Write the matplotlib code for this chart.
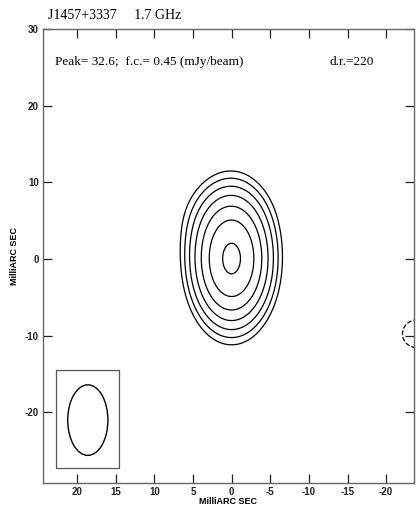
# VLBI total-intensity contour map, J1457+3337 at 1.7 GHz
import numpy as np
import matplotlib
matplotlib.use('Agg')
import matplotlib.pyplot as plt
from matplotlib.patches import Ellipse, Rectangle

plt.rcParams['axes.unicode_minus'] = False

# Map parameters
source_name = 'J1457+3337'
frequency = '1.7 GHz'
peak = 32.6            # mJy/beam
first_contour = 0.45   # mJy/beam
dyn_range = 220
contour_factors = [1, 2, 4, 8, 16, 32, 64]
neg_factors = [-1]

# Core component (centre x, centre y, sigma x, sigma y) in mas
core = (0.0, 0.0, 2.24, 3.82)
# Faint extension to the north (x, y, sigma x, sigma y, amplitude)
ext = (0.8, 5.0, 3.0, 3.0, 1.0)
# Small negative feature near the right edge (x, y, sigma, amplitude)
neg_blob = (-23.9, -9.75, 1.9, -0.7)

# Restoring beam (centre x, centre y, width, height) and its box
beam = (18.6, -21.0, 5.2, 9.2)
beam_box = (14.6, -27.3, 8.1, 12.8)

x_ticks = [20, 15, 10, 5, 0, -5, -10, -15, -20]
y_ticks = [30, 20, 10, 0, -10, -20]

# Model brightness on a grid
xs = np.linspace(-28, 28, 561)
ys = np.linspace(-32, 32, 641)
X, Y = np.meshgrid(xs, ys)
cx, cy, sx, sy = core
Z = peak * np.exp(-((X - cx) ** 2 / (2 * sx ** 2) + (Y - cy) ** 2 / (2 * sy ** 2)))
ex_, ey_, esx, esy, ea = ext
Z += ea * np.exp(-((X - ex_) ** 2 / (2 * esx ** 2) + (Y - ey_) ** 2 / (2 * esy ** 2)))
nx, ny, ns, na = neg_blob
Z += na * np.exp(-((X - nx) ** 2 + (Y - ny) ** 2) / (2 * ns ** 2))

fig = plt.figure(figsize=(4.17, 5.11), dpi=100)
ax = fig.add_axes([0.1031, 0.0548, 0.8897, 0.8885])

levels = [first_contour * f for f in contour_factors]
ax.contour(X, Y, Z, levels=levels, colors='black', linewidths=0.9)
neg_levels = [first_contour * f for f in neg_factors]
ax.contour(X, Y, Z, levels=neg_levels, colors='black', linewidths=0.9,
           linestyles='dashed')

# Beam inset
bx, by, bw, bh = beam_box
ax.add_patch(Rectangle((bx, by), bw, bh, fill=False, edgecolor='#555555',
                       linewidth=0.9, zorder=3))
ex, ey, ew, eh = beam
ax.add_patch(Ellipse((ex, ey), ew, eh, fill=False, edgecolor='black',
                     linewidth=1.0, zorder=3))

ax.set_xlim(24.4, -23.6)
ax.set_ylim(-29.2, 30)
ax.set_xticks(x_ticks)
ax.set_yticks(y_ticks)
ax.tick_params(direction='in', length=6.5, width=0.9, top=True, right=True,
               labelsize=7, colors='#222222', pad=3)
for lab in ax.get_xticklabels() + ax.get_yticklabels():
    lab.set_fontfamily('Liberation Sans')
    lab.set_fontweight('bold')
for sp in ax.spines.values():
    sp.set_color('#666666')
    sp.set_linewidth(1.0)

ax.set_xlabel('MilliARC SEC', fontsize=6.5, fontweight='bold',
              family='Liberation Sans', labelpad=0)
ax.set_ylabel('MilliARC SEC', fontsize=6.5, fontweight='bold',
              family='Liberation Sans', labelpad=4)

fig.text(48 / 417, 1 - 15 / 511, f'{source_name}     {frequency}',
         family='Liberation Serif', fontsize=10, va='center', ha='left')
ax.text(55 / 417, 1 - 62 / 511, f'Peak= {peak};  f.c.= {first_contour} (mJy/beam)',
        transform=fig.transFigure, family='Liberation Serif', fontsize=9.5,
        va='center', ha='left')
ax.text(330 / 417, 1 - 62 / 511, f'd.r.={dyn_range}',
        transform=fig.transFigure, family='Liberation Serif', fontsize=9.5,
        va='center', ha='left')

fig.savefig('out.png', dpi=100)
